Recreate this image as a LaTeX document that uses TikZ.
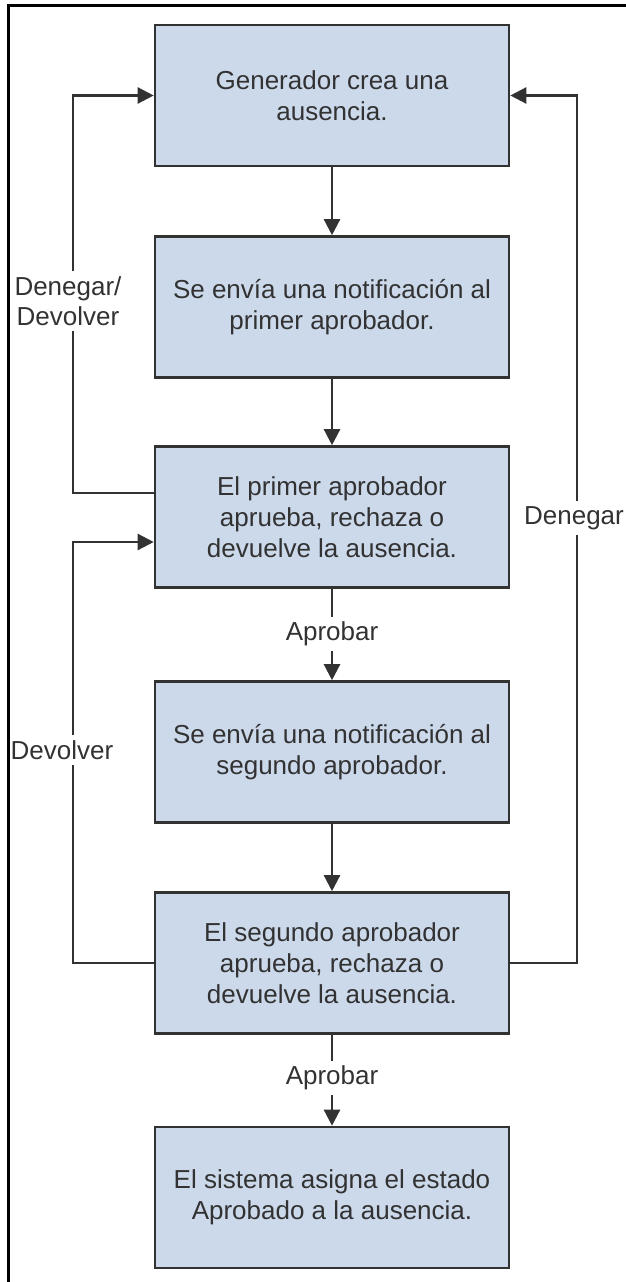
\documentclass[tikz,border=0pt]{standalone}
\usepackage{fontspec}
\setmainfont{Liberation Sans}
\usepackage{xcolor}
\usepackage{tikz}
\usetikzlibrary{arrows.meta,positioning,calc}

\definecolor{boxfill}{RGB}{204,217,235}
\definecolor{inkgray}{RGB}{50,50,50}

\tikzset{
  stepbox/.style={draw=inkgray, line width=2.6pt, fill=boxfill, minimum width=354pt, minimum height=141pt,
    align=center, text=inkgray, font=\fontsize{26}{31}\selectfont},
  lbl/.style={align=center, text=inkgray, font=\fontsize{26}{30}\selectfont, inner sep=5pt},
  plain/.style={draw=inkgray, line width=2.4pt},
  flow/.style={plain, -{Triangle[width=16pt,length=16pt]}}
}

\begin{document}
\begin{tikzpicture}[x=1pt, y=-1pt]
\useasboundingbox (0,0) rectangle (626,1282);

% frame (left and top only)
\draw[line width=3pt] (8,1282) -- (8,5) -- (626,5);

% Steps
\node[stepbox] (b1) at (332,95.5) {Generador crea una\\ausencia.};
\node[stepbox] (b2) at (332,307) {Se envía una notificación al\\primer aprobador.};
\node[stepbox] (b3) at (332,517) {El primer aprobador\\aprueba, rechaza o\\devuelve la ausencia.};
\node[stepbox] (b4) at (332,752) {Se envía una notificación al\\segundo aprobador.};
\node[stepbox] (b5) at (332,963) {El segundo aprobador\\aprueba, rechaza o\\devuelve la ausencia.};
\node[stepbox] (b6) at (332,1197.5) {El sistema asigna el estado\\Aprobado a la ausencia.};

% Labels on the connectors
\node[lbl] (ok1) at (332,634) {Aprobar};
\node[lbl] (ok2) at (332,1078) {Aprobar};
\node[lbl] (back1) at (68,301) {Denegar/\\Devolver};
\node[lbl] (back2) at (62,750) {Devolver};
\node[lbl] (deny) at (574,518) {Denegar};

\coordinate (lx) at (73,0);
\coordinate (rx) at (577,0);

% Main flow
\draw[flow] (b1) -- (b2);
\draw[flow] (b2) -- (b3);
\draw[plain] (b3) -- (ok1);
\draw[flow] (ok1) -- (b4);
\draw[flow] (b4) -- (b5);
\draw[plain] (b5) -- (ok2);
\draw[flow] (ok2) -- (b6);

% Loops back
\draw[plain] ([yshift=24pt]b3.west) -| (lx |- back1.south);
\draw[flow] (lx |- back1.north) |- (b1.west);

\draw[plain] (b5.west) -| (lx |- back2.south);
\draw[flow] (lx |- back2.north) |- ([yshift=-25pt]b3.west);

\draw[plain] (b5.east) -| (rx |- deny.south);
\draw[flow] (rx |- deny.north) |- (b1.east);

\end{tikzpicture}
\end{document}
